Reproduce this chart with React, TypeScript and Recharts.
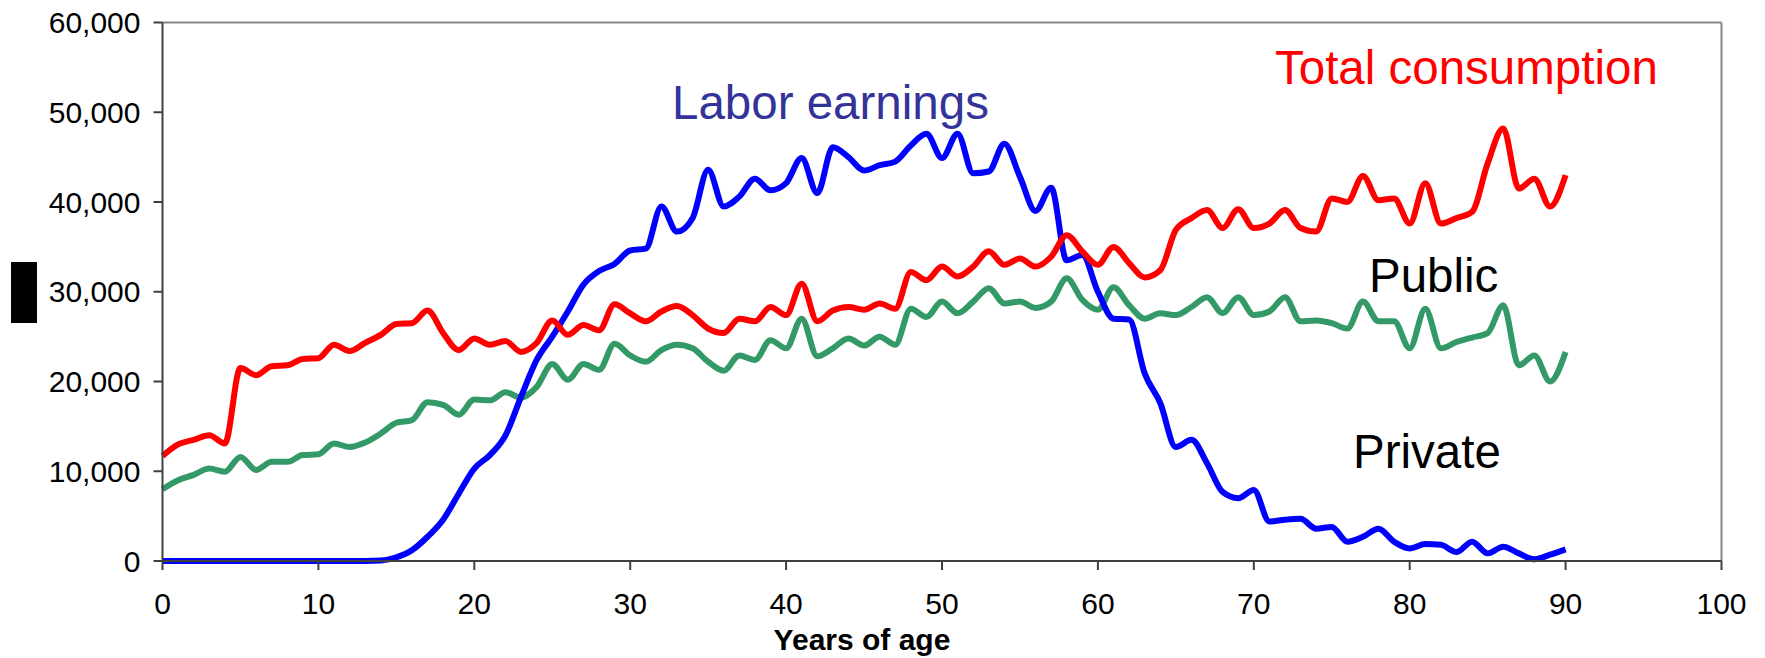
import { Line, LineChart, ReferenceLine, XAxis, YAxis } from "recharts";

// age in years
const ages = [
  0, 1, 2, 3, 4, 5, 6, 7, 8, 9, 10, 11, 12, 13, 14, 15, 16, 17, 18, 19, 20,
  21, 22, 23, 24, 25, 26, 27, 28, 29, 30, 31, 32, 33, 34, 35, 36, 37, 38, 39, 40,
  41, 42, 43, 44, 45, 46, 47, 48, 49, 50, 51, 52, 53, 54, 55, 56, 57, 58, 59, 60,
  61, 62, 63, 64, 65, 66, 67, 68, 69, 70, 71, 72, 73, 74, 75, 76, 77, 78, 79, 80,
  81, 82, 83, 84, 85, 86, 87, 88, 89, 90,
];

const totalConsumption = [
  11700, 13000, 13500, 14000, 13100, 21500, 20700, 21700, 21800, 22500, 22600,
  24100, 23400, 24300, 25200, 26400, 26500, 27900, 25400, 23500, 24800,
  24100, 24500, 23300, 24300, 26800, 25200, 26300, 25700, 28600, 27600,
  26700, 27800, 28400, 27400, 25900, 25400, 27000, 26700, 28300, 27400,
  30900, 26700, 27900, 28300, 28000, 28700, 28100, 32200, 31300, 32800,
  31700, 32800, 34500, 33000, 33700, 32800, 33900, 36300, 34500, 33000,
  35000, 33200, 31600, 32400, 36900, 38200, 39100, 37100, 39200, 37100,
  37600, 39100, 37100, 36700, 40400, 40000, 42900, 40200, 40400, 37600,
  42100, 37600, 38200, 38900, 44300, 48200, 41500, 42600, 39500, 43000,
];

const privateConsumption = [
  8000, 9000, 9600, 10300, 9950, 11600, 10150, 11050, 11050, 11800, 11900,
  13100, 12700, 13200, 14200, 15400, 15700, 17700, 17400, 16300, 18000,
  17900, 18800, 18200, 19400, 21950, 20200, 21950, 21300, 24200, 22900,
  22200, 23500, 24100, 23700, 22200, 21200, 22900, 22400, 24600, 23700,
  27000, 22800, 23700, 24800, 24000, 25000, 24100, 28100, 27200, 28900,
  27600, 28900, 30400, 28700, 28900, 28200, 28900, 31500, 29100, 28000,
  30500, 28500, 27000, 27600, 27400, 28300, 29400, 27600, 29400, 27400,
  27800, 29400, 26700, 26800, 26500, 25900, 28900, 26700, 26700, 23700,
  28100, 23700, 24400, 24900, 25400, 28500, 21800, 22900, 20000, 23300,
];

const laborEarnings = [
  0, 0, 0, 0, 0, 0, 0, 0, 0, 0, 0,
  0, 0, 0, 50, 400, 1200, 2700, 4600, 7500, 10300,
  11800, 14000, 18300, 22400, 25000, 27800, 30800, 32300, 33100, 34600,
  34800, 39500, 36700, 38200, 43600, 39500, 40600, 42600, 41300, 42100,
  44900, 41000, 46100, 45000, 43500, 44100, 44500, 46300, 47600, 44900,
  47600, 43200, 43400, 46500, 42800, 39000, 41600, 33500, 34100, 30000,
  27000, 26900, 20900, 17600, 12700, 13500, 10900, 7700, 7000, 7900,
  4400, 4600, 4700, 3600, 3800, 2150, 2700, 3600, 2150, 1400,
  1900, 1800, 1000, 2150, 850, 1600, 850, 200, 700, 1300,
];

const xTicks = [0, 10, 20, 30, 40, 50, 60, 70, 80, 90, 100];
const yTicks = [0, 10000, 20000, 30000, 40000, 50000, 60000];

const data = ages.map((age, i) => ({
  age,
  total: totalConsumption[i],
  priv: privateConsumption[i],
  labor: laborEarnings[i],
}));

const W = 1765;
const H = 658;
const FONT = '"Liberation Sans", Arial, Helvetica, sans-serif';
const AXIS = "#404040";

export default function App() {
  return (
    <div style={{ position: "absolute", left: 0, top: 0, width: W, height: H, background: "#fff" }}>
      <LineChart width={W} height={H} data={data} margin={{ top: 22.5, right: 43.5, bottom: 37, left: 62.5 }}>
        <XAxis
          type="number"
          dataKey="age"
          domain={[0, 100]}
          ticks={xTicks}
          interval={0}
          height={60}
          tickSize={9}
          tickMargin={23}
          axisLine={{ stroke: AXIS, strokeWidth: 2 }}
          tickLine={{ stroke: AXIS, strokeWidth: 2 }}
          tick={{ fill: "#000", fontSize: 30, fontFamily: FONT }}
        />
        <YAxis
          type="number"
          domain={[0, 60000]}
          ticks={yTicks}
          interval={0}
          width={100}
          tickSize={9}
          tickMargin={13}
          axisLine={{ stroke: AXIS, strokeWidth: 2 }}
          tickLine={{ stroke: AXIS, strokeWidth: 2 }}
          tick={{ fill: "#000", fontSize: 30, fontFamily: FONT }}
          tickFormatter={(v: number) => v.toLocaleString("en-US")}
        />
        <ReferenceLine y={60000} stroke="#888" strokeWidth={2} />
        <ReferenceLine x={100} stroke="#888" strokeWidth={2} />
        <Line
          type="monotone"
          dataKey="priv"
          stroke="#339966"
          strokeWidth={6}
          dot={false}
          isAnimationActive={false}
        />
        <Line
          type="monotone"
          dataKey="labor"
          stroke="#0000ff"
          strokeWidth={6}
          dot={false}
          isAnimationActive={false}
        />
        <Line
          type="monotone"
          dataKey="total"
          stroke="#ff0000"
          strokeWidth={6}
          dot={false}
          isAnimationActive={false}
        />
      </LineChart>

      {/* annotations */}
      <svg width={W} height={H} style={{ position: "absolute", left: 0, top: 0, pointerEvents: "none" }}>
        <g fontFamily={FONT} fontSize={47.5}>
          <text x={672} y={119} fill="#333399">Labor earnings</text>
          <text x={1275} y={84} fill="#ff0000">Total consumption</text>
          <text x={1369} y={292} fill="#000">Public</text>
          <text x={1353} y={468} fill="#000">Private</text>
        </g>
        <text x={862} y={650} textAnchor="middle" fontFamily={FONT} fontSize={30} fontWeight="bold" fill="#000">
          Years of age
        </text>
      </svg>
      <div style={{ position: "absolute", left: 11, top: 262, width: 26, height: 61, background: "#000" }} />
    </div>
  );
}
